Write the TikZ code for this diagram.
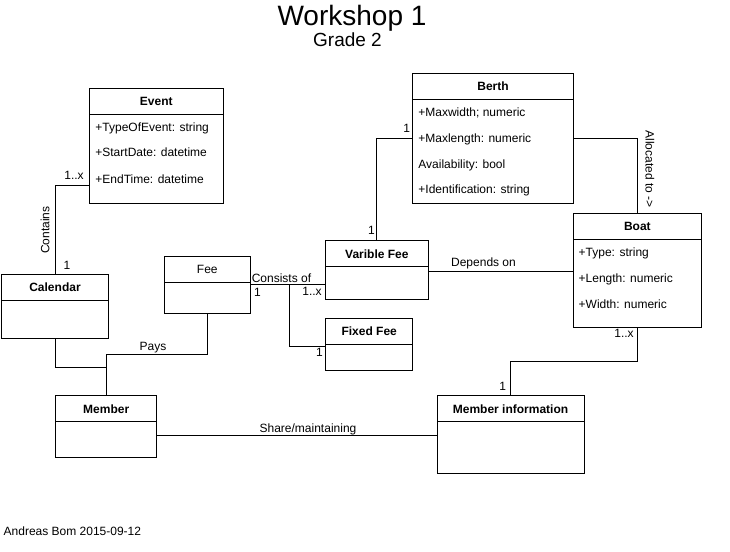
\documentclass[tikz,border=0pt]{standalone}
\usepackage{fontspec}
\setmainfont{Liberation Sans}
\usepackage{tikz}
\newcommand{\umlfont}{\fontsize{12}{14}\selectfont}
\tikzset{
  classhead/.style={draw, anchor=north west, inner sep=0pt, outer sep=0pt, minimum height=26pt, text height=8.6pt, text depth=0pt, font=\umlfont\bfseries},
  classbody/.style={draw, anchor=north west, inner sep=0pt, outer sep=0pt},
  attr/.style={anchor=west, inner sep=0pt, text height=8.6pt, text depth=0pt, font=\umlfont},
  lbl/.style={inner sep=0pt, text height=8.6pt, text depth=0pt, font=\umlfont},
}
\begin{document}
\begin{tikzpicture}[x=1pt, y=-1pt, line width=0.8pt]
\useasboundingbox (0,0) rectangle (730,551);

\node[inner sep=0pt] (title) at (352,18) {\fontsize{28}{30}\selectfont Workshop 1};
\node[inner sep=0pt] (grade) at (347.5,40) {\fontsize{19}{21}\selectfont Grade 2};

\node[classhead, minimum width=134pt] (event) at (89.3,88.3) {Event};
\node[classbody, minimum width=134pt, minimum height=89pt] (eventb) at (event.south west) {};
\node[attr] (evtype) at (95,126.7) {+TypeOfEvent: string};
\node[attr] (evstart) at (95,152.3) {+StartDate: datetime};
\node[attr] (evend) at (95,178.7) {+EndTime: datetime};

\node[classhead, minimum width=160.6pt] (berth) at (412.7,73.3) {Berth};
\node[classbody, minimum width=160.6pt, minimum height=104pt] (berthb) at (berth.south west) {};
\node[attr] (bmaxwidth) at (418,111.7) {+Maxwidth; numeric};
\node[attr] (bmaxlen) at (418,138.3) {+Maxlength: numeric};
\node[attr] (bavail) at (418,164) {Availability: bool};
\node[attr] (bident) at (418,189.3) {+Identification: string};

\node[classhead, minimum width=128.7pt] (boat) at (573,213.3) {Boat};
\node[classbody, minimum width=128.7pt, minimum height=88pt] (boatb) at (boat.south west) {};
\node[attr] (btype) at (578.3,252.3) {+Type: string};
\node[attr] (blength) at (578.3,278.3) {+Length: numeric};
\node[attr] (bwidth) at (578.3,303.7) {+Width: numeric};

\node[classhead, minimum width=106.6pt] (calendar) at (1.7,274) {Calendar};
\node[classbody, minimum width=106.6pt, minimum height=38.7pt] (calendarb) at (calendar.south west) {};

\node[classhead, minimum width=86pt, font=\umlfont] (fee) at (164.3,256) {Fee};
\node[classbody, minimum width=86pt, minimum height=31pt] (feeb) at (fee.south west) {};

\node[classhead, minimum width=102.3pt] (varfee) at (325.7,240.7) {Varible Fee};
\node[classbody, minimum width=102.3pt, minimum height=32.3pt] (varfeeb) at (varfee.south west) {};

\node[classhead, minimum width=87pt] (fixedfee) at (325.7,318) {Fixed Fee};
\node[classbody, minimum width=87pt, minimum height=26pt] (fixedfeeb) at (fixedfee.south west) {};

\node[classhead, minimum width=101pt] (member) at (55.7,395.7) {Member};
\node[classbody, minimum width=101pt, minimum height=35.6pt] (memberb) at (member.south west) {};

\node[classhead, minimum width=147pt] (minfo) at (437,395.7) {Member information};
\node[classbody, minimum width=147pt, minimum height=51.6pt] (minfob) at (minfo.south west) {};

\draw (calendar.north) |- ([yshift=18pt]eventb.south west);
\node[lbl, rotate=90] at (45,230) {Contains};
\node[lbl] at (74,175) {1..x};
\node[lbl] at (67,265) {1};

\draw (calendarb.south) -- ++(0,29) -| (member.north);
\draw (member.north) -- ++(0,-41) -| (feeb.south);
\node[lbl] at (153,346) {Pays};

\draw ([yshift=-2pt]feeb.north east) coordinate (consist) -- (consist -| varfeeb.west);
\draw ([xshift=39pt]consist) |- ([yshift=-2.5pt]fixedfeeb.north west);
\node[lbl] at (281.5,277.7) {Consists of};
\node[lbl] at (257.5,292.3) {1};
\node[lbl] at (312,291) {1..x};
\node[lbl] at (319.5,352.3) {1};

\draw (varfee.north) |- (berthb.west |- bmaxlen);
\node[lbl] at (406.7,128.3) {1};
\node[lbl] at (371.5,230) {1};

\draw (berthb.east |- bmaxlen) -| (boat.north);
\node[lbl, rotate=-90] at (650,169) {Allocated to ->};

\draw ([yshift=-4.5pt]varfeeb.north east) coordinate (dep) -- (dep -| boatb.west);
\node[lbl] at (483.5,262.3) {Depends on};

\draw (boatb.south) -- ++(0,34) -| (minfo.north);
\node[lbl] at (624,332.7) {1..x};
\node[lbl] at (502.7,385.7) {1};

\draw ([yshift=-13.3pt]memberb.north east) coordinate (share) -- (share -| minfob.west);
\node[lbl] at (308,427.7) {Share/maintaining};

\node[lbl, anchor=west] (author) at (3.3,530.7) {Andreas Bom 2015-09-12};
\end{tikzpicture}
\end{document}
